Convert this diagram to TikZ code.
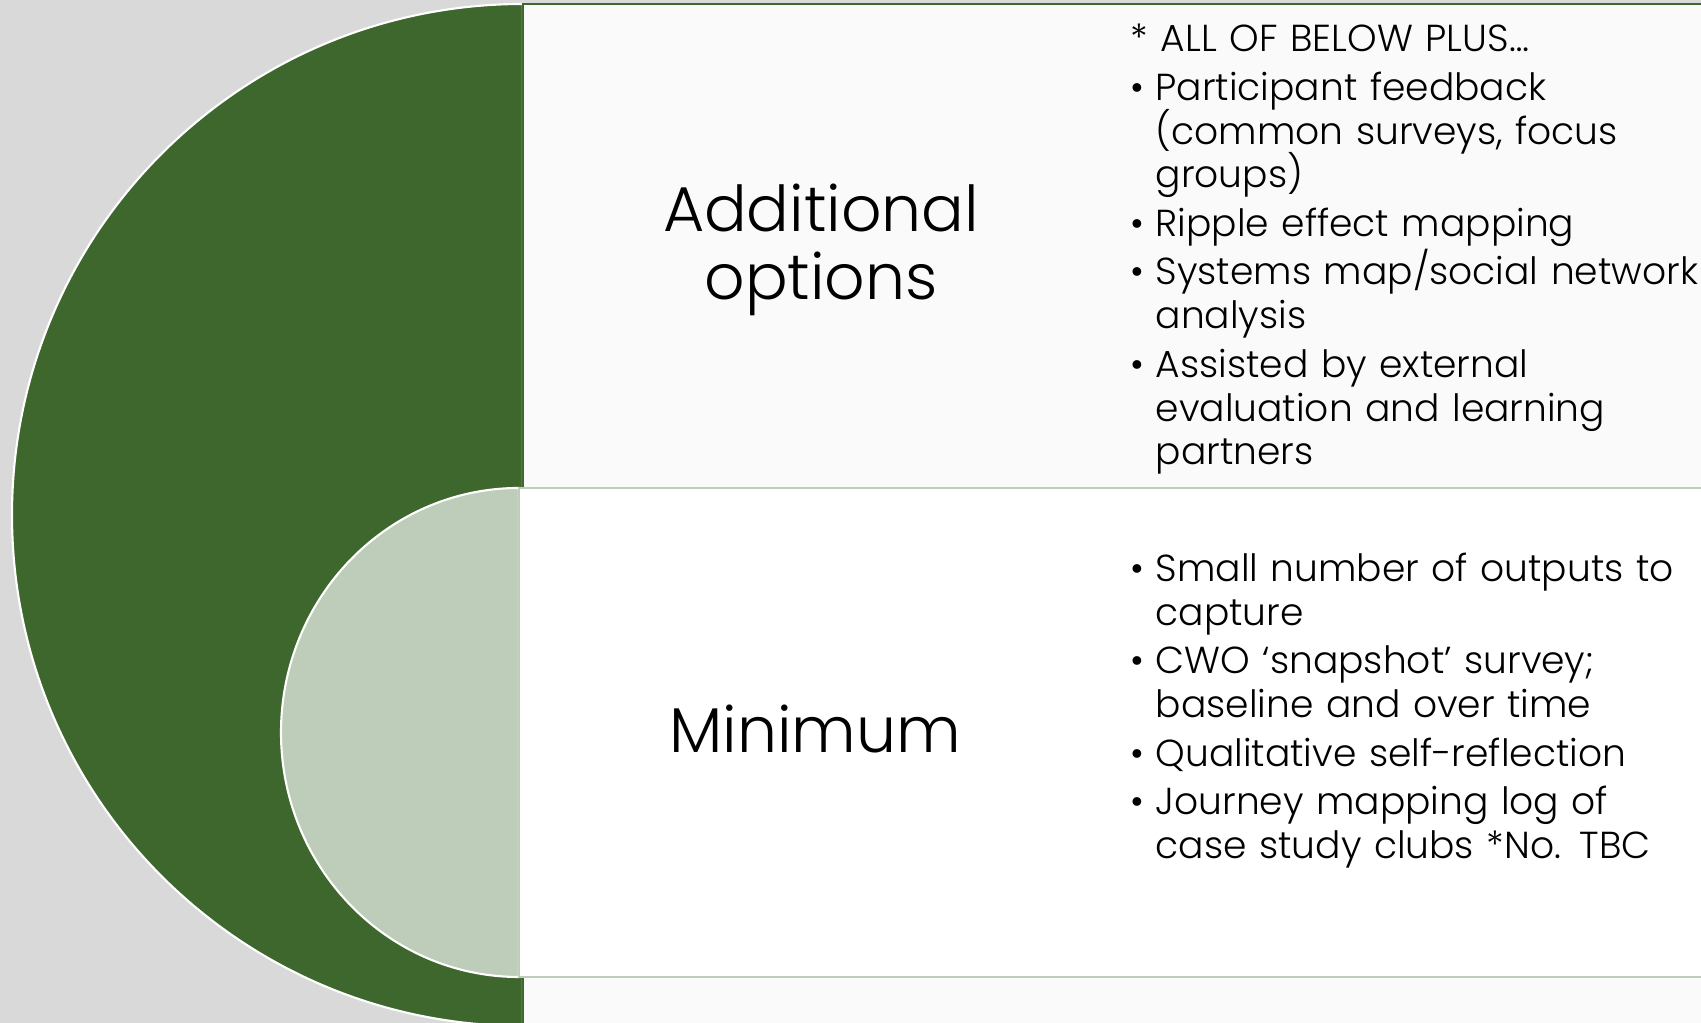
\documentclass[tikz,border=0pt]{standalone}
\usepackage{fontspec}
\IfFontExistsTF{Poppins Light}{\setmainfont{Poppins Light}}{\setmainfont{Poppins}}
\usepackage{xcolor}
\usepackage{tikz}
\usetikzlibrary{positioning}
\definecolor{bggray}{HTML}{D9D9D9}
\definecolor{leafgreen}{HTML}{3E672D}
\definecolor{sagegreen}{HTML}{BDCDB9}
\definecolor{paper}{HTML}{FAFAFA}
% one bullet of a list, later lines hang under the text
\newcommand{\bulletitem}[1]{\hangindent=0.25cm\hangafter=1\makebox[0.25cm][l]{•}#1\par}

\begin{document}
\begin{tikzpicture}[
 tierlabel/.style={font=\fontsize{18}{19.35}\selectfont,align=center,inner sep=0pt,anchor=base},
 notes/.style={font=\fontsize{10.7}{12.45}\selectfont,text width=7cm,align=left,inner sep=0pt,anchor=base west,
   execute at begin node={\setlength{\parskip}{1.35pt}\setlength{\lineskiplimit}{-6pt}}},
 panel/.style={line width=0.8pt},
 disc/.style={draw=white,line width=0.6pt}
]
\useasboundingbox (0,0) rectangle (17.01,10.23);
\clip (0,0) rectangle (17.01,10.23);
\fill[bggray] (0,0) rectangle (17.01,10.23);

% outer tier
\draw[disc,fill=leafgreen] (5.23,10.19) arc[start angle=90,end angle=270,radius=5.11] -- cycle;
\draw[panel,draw=leafgreen,fill=paper] (5.23,5.35) rectangle (17.3,10.19);
\draw[panel,draw=leafgreen,fill=paper] (5.23,-0.3) rectangle (17.3,0.46);

% inner tier
\draw[disc,fill=sagegreen] (5.19,5.35) arc[start angle=90,end angle=270,x radius=2.38,y radius=2.445] -- cycle;
\draw[panel,draw=sagegreen,fill=white] (5.19,0.46) rectangle (17.3,5.35);

\node[tierlabel] (extra) at (8.21,7.23) {Additional\\options};
\node[tierlabel] (core) at (8.155,2.70) {Minimum};

\node[notes] (extralist) at (11.30,9.71) {* ALL OF BELOW PLUS…\par
 \bulletitem{Participant feedback\newline (common surveys, focus\newline groups)}
 \bulletitem{Ripple effect mapping}
 \bulletitem{Systems map/social network\newline analysis}
 \bulletitem{Assisted by external\newline evaluation and learning\newline partners}};

\node[notes] (corelist) at (11.30,4.415) {%
 \bulletitem{Small number of outputs to\newline capture}
 \bulletitem{CWO ‘snapshot’ survey;\newline baseline and over time}
 \bulletitem{Qualitative self-reflection}
 \bulletitem{Journey mapping log of\newline case study clubs *No. TBC}};
\end{tikzpicture}
\end{document}
